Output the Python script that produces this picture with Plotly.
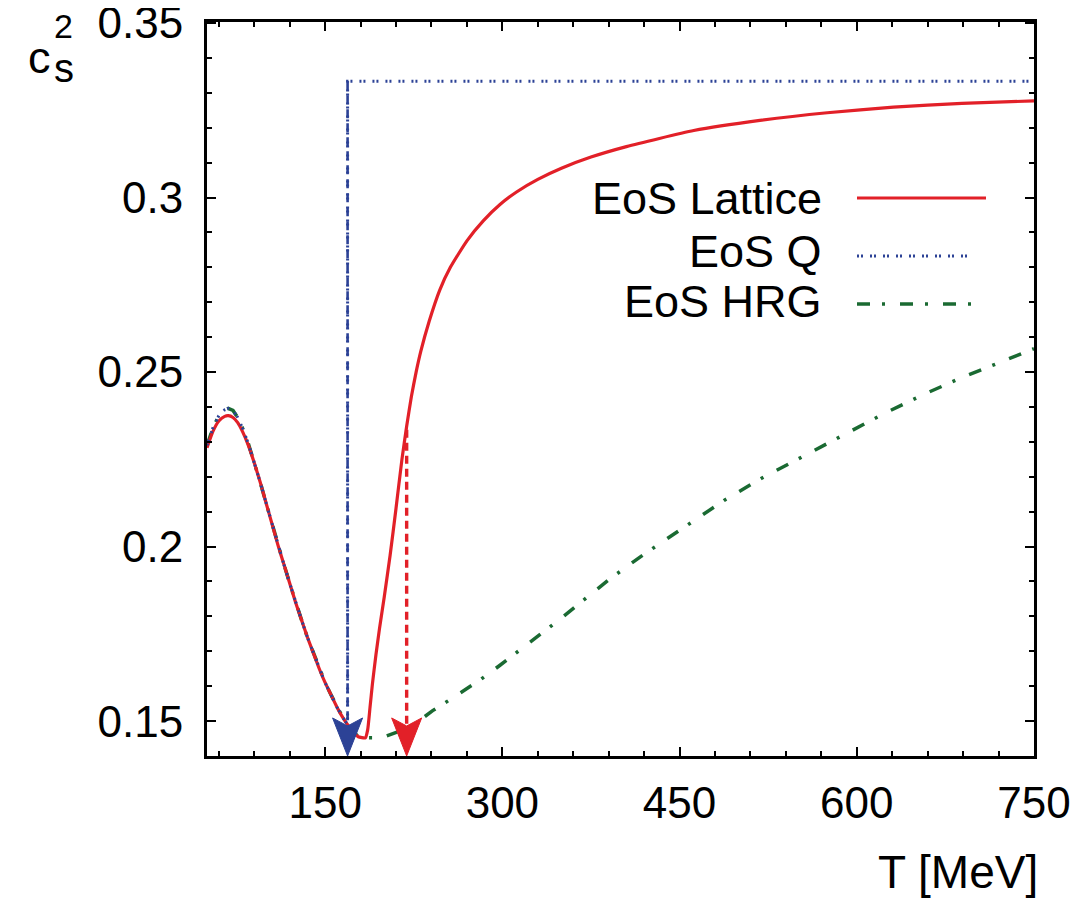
import plotly.graph_objects as go

# ---------------- data ----------------
lat_T = [50, 55, 60, 65, 68, 72, 76, 80, 85, 90, 95, 100, 105, 110, 115, 120, 125, 130,
         135, 140, 145, 150, 155, 160, 165, 170, 175, 178, 184, 186, 188, 190, 193, 196,
         200, 205, 210, 215, 219, 223, 227, 231, 238, 247, 256, 270, 284, 298, 312, 330,
         350, 375, 405, 462, 518, 575, 631, 689, 750]
lat_c = [0.2283, 0.2330, 0.2360, 0.2373, 0.2375, 0.2370, 0.2355, 0.2330, 0.2290, 0.2240,
         0.2185, 0.2125, 0.2065, 0.2005, 0.1950, 0.1895, 0.1840, 0.1790, 0.1740, 0.1695,
         0.1650, 0.1610, 0.1575, 0.1540, 0.1510, 0.1485, 0.1465, 0.1455, 0.1452, 0.1475,
         0.1540, 0.1606, 0.1690, 0.1765, 0.1855, 0.1975, 0.2110, 0.2250, 0.2345, 0.2430,
         0.2500, 0.2560, 0.2645, 0.2735, 0.2800, 0.2876, 0.2934, 0.2980, 0.3016, 0.3052,
         0.3084, 0.3116, 0.3146, 0.3192, 0.3221, 0.3243, 0.3259, 0.3270, 0.3277]

hrg_T = [50, 55, 60, 65, 68, 72, 76, 80, 85, 90, 95, 100, 105, 110, 115, 120, 125, 130,
         135, 140, 145, 150, 155, 160, 165, 170, 175, 178, 185, 195, 200, 209, 220, 230,
         241, 255, 267, 282, 298, 320, 348, 370, 390, 419, 449, 488, 519, 556, 585, 623,
         658, 690, 725, 750]
hrg_c = [0.2290, 0.2340, 0.2375, 0.2392, 0.2396, 0.2390, 0.2370, 0.2340, 0.2295, 0.2242,
         0.2185, 0.2125, 0.2065, 0.2005, 0.1950, 0.1895, 0.1840, 0.1790, 0.1740, 0.1695,
         0.1650, 0.1610, 0.1575, 0.1540, 0.1510, 0.1485, 0.1465, 0.1455, 0.1452, 0.1452,
         0.1455, 0.1466, 0.1480, 0.1502, 0.1530, 0.1560, 0.1586, 0.1620, 0.1660, 0.1717,
         0.1790, 0.1850, 0.1905, 0.1976, 0.2043, 0.2133, 0.2195, 0.2262, 0.2314, 0.2381,
         0.2438, 0.2486, 0.2533, 0.2567]

q_T = [50, 55, 60, 65, 68, 72, 76, 80, 85, 90, 95, 100, 105, 110, 115, 120, 125, 130,
       135, 140, 145, 150, 155, 160, 165, 169, 169, 750]
q_c = [0.2290, 0.2340, 0.2375, 0.2392, 0.2396, 0.2390, 0.2370, 0.2340, 0.2295, 0.2242,
       0.2185, 0.2125, 0.2065, 0.2005, 0.1950, 0.1895, 0.1840, 0.1790, 0.1740, 0.1695,
       0.1650, 0.1610, 0.1575, 0.1540, 0.1510, 0.1490, 0.3333, 0.3333]

# transition-temperature arrows: (T, value where the arrow starts)
arrow_T = [169, 219]
arrow_top = [0.3333, 0.2335]

x_ticks = [150, 300, 450, 600, 750]
x_labels = ["150", "300", "450", "600", "750"]
y_ticks = [0.15, 0.2, 0.25, 0.3, 0.35]
y_labels = ["0.15", "0.2", "0.25", "0.3", "0.35"]

series_names = ["EoS Lattice", "EoS Q", "EoS HRG"]

# ---------------- style ----------------
RED = "rgb(226,32,40)"
BLUE = "rgb(44,66,150)"
GREEN = "rgb(26,106,50)"
FONT = "Liberation Sans, Arial, Helvetica, sans-serif"

X_RANGE = [50, 750]
Y_RANGE = [0.14, 0.3503]
W, H = 1086, 902
OFF = 8  # page body margin in the browser
ML, MR, MT, MB = 207 - OFF, 52 + OFF, 22 - OFF, 146 + OFF
PW = W - ML - MR
PH = H - MT - MB


def px(xp):
    # target pixel (screen) -> paper x
    return (xp - OFF - ML) / PW


def py(yp):
    # target pixel (screen) -> paper y
    return (H - MB - (yp - OFF)) / PH


fig = go.Figure()

Q_DASH = "2px,2px,2px,7px"
HRG_DASH = "13px,12px,3px,15px"

# HRG
fig.add_trace(go.Scatter(x=hrg_T, y=hrg_c, mode="lines", name=series_names[2],
                         line=dict(color=GREEN, width=3.5, dash=HRG_DASH),
                         showlegend=False))
# Lattice
fig.add_trace(go.Scatter(x=lat_T, y=lat_c, mode="lines", name=series_names[0],
                         line=dict(color=RED, width=3.2, shape="spline", smoothing=0.5),
                         showlegend=False))
# Q
fig.add_trace(go.Scatter(x=q_T, y=q_c, mode="lines", name=series_names[1],
                         line=dict(color=BLUE, width=3, dash=Q_DASH),
                         showlegend=False))

# arrows
head_hw = 12.7        # half width of head in MeV
head_back = 0.0109    # head length in c_s^2 units
head_notch = 0.0086
arrow_colors = [BLUE, RED]
arrow_dash = ["9px,5px", "8px,5px"]
arrow_width = [2.6, 3.4]
for T, top, col, dsh, wd in zip(arrow_T, arrow_top, arrow_colors, arrow_dash, arrow_width):
    tip = Y_RANGE[0]
    fig.add_trace(go.Scatter(x=[T, T], y=[top, tip + head_notch], mode="lines",
                             line=dict(color=col, width=wd, dash=dsh),
                             showlegend=False, hoverinfo="skip"))
    fig.add_trace(go.Scatter(
        x=[T - head_hw, T, T + head_hw, T, T - head_hw],
        y=[tip + head_back, tip, tip + head_back, tip + head_notch, tip + head_back],
        mode="lines", fill="toself", fillcolor=col, line=dict(color=col, width=1),
        showlegend=False, hoverinfo="skip"))

# legend (text on the left, sample on the right, as in the reference)
leg_rows = [(199, 198, 986, dict(color=RED, width=3.2, dash="solid")),
            (252, 256, 973, dict(color=BLUE, width=3, dash=Q_DASH)),
            (301, 304, 976, dict(color=GREEN, width=3.5, dash=HRG_DASH))]
for name, (ty, ly, lx1, ln) in zip(series_names, leg_rows):
    fig.add_annotation(x=px(824), y=py(ty), xref="paper", yref="paper",
                       text=name, showarrow=False, xanchor="right", yanchor="middle",
                       font=dict(family=FONT, size=45, color="black"))
    fig.add_shape(type="line", xref="paper", yref="paper",
                  x0=px(857), x1=px(lx1), y0=py(ly), y1=py(ly), line=ln)

# axis titles
fig.add_annotation(x=px(1040), y=py(872), xref="paper", yref="paper", text="T [MeV]",
                   showarrow=False, xanchor="right", yanchor="middle",
                   font=dict(family=FONT, size=46, color="black"))
fig.add_annotation(x=px(39), y=py(58), xref="paper", yref="paper", text="c",
                   showarrow=False, xanchor="center", yanchor="middle",
                   font=dict(family=FONT, size=45, color="black"))
fig.add_annotation(x=px(63), y=py(26), xref="paper", yref="paper", text="2",
                   showarrow=False, xanchor="center", yanchor="middle",
                   font=dict(family=FONT, size=34, color="black"))
fig.add_annotation(x=px(64), y=py(68), xref="paper", yref="paper", text="s",
                   showarrow=False, xanchor="center", yanchor="middle",
                   font=dict(family=FONT, size=40, color="black"))

axis_common = dict(showline=True, linewidth=3, linecolor="black", mirror="allticks",
                   ticks="inside", ticklen=9, tickwidth=2, tickcolor="black",
                   showgrid=False, zeroline=False, ticklabeloverflow="allow",
                   automargin=False,
                   tickfont=dict(family=FONT, size=44, color="black"))
fig.update_xaxes(range=X_RANGE, tickvals=x_ticks, ticktext=x_labels,
                 minor=dict(ticks="inside", ticklen=5, tickwidth=2, dtick=30, tick0=0,
                            tickcolor="black", showgrid=False),
                 ticklabelstandoff=6, **axis_common)
fig.update_yaxes(range=Y_RANGE, tickvals=y_ticks, ticktext=y_labels,
                 minor=dict(ticks="inside", ticklen=5, tickwidth=2, dtick=0.01, tick0=0,
                            tickcolor="black", showgrid=False),
                 ticklabelstandoff=12, **axis_common)

fig.update_layout(width=W, height=H, margin=dict(l=ML, r=MR, t=MT, b=MB),
                  paper_bgcolor="white", plot_bgcolor="white", showlegend=False,
                  font=dict(family=FONT, color="black"))

fig.write_html("out.html")
